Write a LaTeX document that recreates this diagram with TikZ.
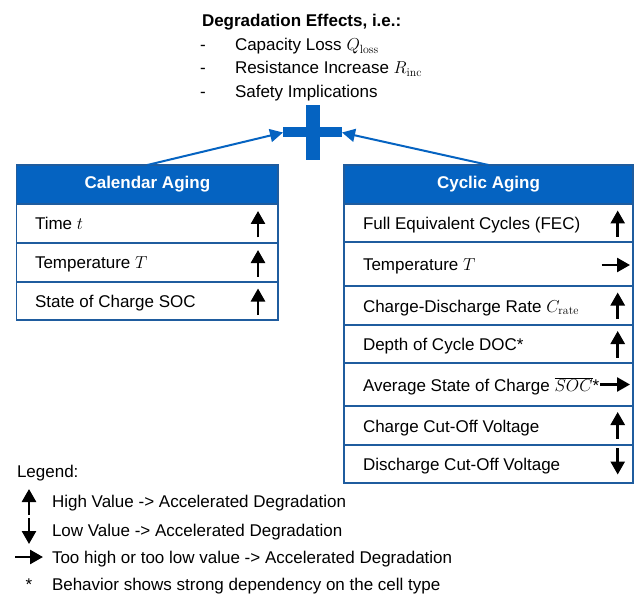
\documentclass[tikz,border=0pt]{standalone}
\usepackage{fontspec}
\setmainfont{Liberation Sans}
\setmathrm{Latin Modern Roman}
\usetikzlibrary{arrows.meta}
\definecolor{hdr}{HTML}{0563C1}
\definecolor{bdr}{HTML}{1F5C9E}
\begin{document}
\begin{tikzpicture}[x=1pt,y=-1pt,
  every node/.style={font=\fontsize{17}{20}\selectfont, inner sep=0pt, outer sep=0pt},
  hdrbox/.style={draw=bdr, line width=1.4pt, fill=hdr, text=white, font=\fontsize{17}{20}\selectfont\bfseries},
  rowbox/.style={draw=bdr, line width=1.4pt, fill=white},
  rowtxt/.style={anchor=base west},
  ind/.style={-{Triangle[length=13pt,width=14pt]}, line width=2.6pt, black},
  link/.style={draw=hdr, line width=2pt, -{Triangle[length=13pt,width=13pt]}},
]
\useasboundingbox (0,0) rectangle (636,601);

% top text
\node[rowtxt, font=\fontsize{17}{20}\selectfont\bfseries] (deg) at (202,27) {Degradation Effects, i.e.:};
\node[rowtxt] (d1) at (200,50.7) {-};
\node[rowtxt] (e1) at (235,50.7) {Capacity Loss $Q_{\mathrm{loss}}$};
\node[rowtxt] (d2) at (200,74) {-};
\node[rowtxt] (e2) at (235,74) {Resistance Increase $R_{\mathrm{inc}}$};
\node[rowtxt] (d3) at (200,97.3) {-};
\node[rowtxt] (e3) at (235,97.3) {Safety Implications};

% plus
\node (plus) [minimum width=59pt, minimum height=55pt] at (312.5,132.5) {};
\fill[hdr] (305.5,105) rectangle (320,160);
\fill[hdr] (283,127) rectangle (342,137.5);

% calendar box
\node[hdrbox, minimum width=261.3pt, minimum height=39pt] (calhdr) at (147.35,184.5) {Calendar Aging};
\node[rowbox, minimum width=261.3pt, minimum height=39pt] (cal1) at (147.35,223.5) {};
\node[rowbox, minimum width=261.3pt, minimum height=39pt] (cal2) at (147.35,262.5) {};
\node[rowbox, minimum width=261.3pt, minimum height=38pt] (cal3) at (147.35,301) {};
\node[rowtxt] (calt1) at (35,230) {Time $t$};
\node[rowtxt] (calt2) at (35,269) {Temperature $T$};
\node[rowtxt] (calt3) at (35,307.5) {State of Charge SOC};
\draw[ind] (258,237.5) -- (258,211);
\draw[ind] (258,276.5) -- (258,250);
\draw[ind] (258,315) -- (258,288.5);

% cyclic box
\node[hdrbox, minimum width=289pt, minimum height=39pt] (cychdr) at (488.5,184.5) {Cyclic Aging};
\node[rowbox, minimum width=289pt, minimum height=38pt] (cy1) at (488.5,223) {};
\node[rowbox, minimum width=289pt, minimum height=44pt] (cy2) at (488.5,264) {};
\node[rowbox, minimum width=289pt, minimum height=39pt] (cy3) at (488.5,305.5) {};
\node[rowbox, minimum width=289pt, minimum height=38pt] (cy4) at (488.5,344) {};
\node[rowbox, minimum width=289pt, minimum height=43pt] (cy5) at (488.5,384.5) {};
\node[rowbox, minimum width=289pt, minimum height=39pt] (cy6) at (488.5,425.5) {};
\node[rowbox, minimum width=289pt, minimum height=38pt] (cy7) at (488.5,464) {};
\node[rowtxt] (cyt1) at (363,229.5) {Full Equivalent Cycles (FEC)};
\node[rowtxt] (cyt2) at (363,270.5) {Temperature $T$};
\node[rowtxt] (cyt3) at (363,312) {Charge-Discharge Rate $C_{\mathrm{rate}}$};
\node[rowtxt] (cyt4) at (363,350.5) {Depth of Cycle DOC*};
\node[rowtxt] (cyt5) at (363,391) {Average State of Charge $\overline{SOC}$*};
\node[rowtxt] (cyt6) at (363,432) {Charge Cut-Off Voltage};
\node[rowtxt] (cyt7) at (363,470.5) {Discharge Cut-Off Voltage};
\draw[ind] (617.7,237) -- (617.7,210.5);
\draw[ind] (601.7,265) -- (630,265);
\draw[ind] (617.7,319) -- (617.7,292.5);
\draw[ind] (617.7,357.5) -- (617.7,331);
\draw[ind] (600,384.5) -- (630,384.5);
\draw[ind] (617.7,438.5) -- (617.7,412);
\draw[ind] (617.7,448) -- (617.7,474.5);

% connectors
\draw[link] (calhdr.north) -- (plus.west);
\draw[link] (cychdr.north) -- (plus.east);

% legend
\node[rowtxt] (leg) at (17,477) {Legend:};
\draw[ind] (29,514.5) -- (29,489);
\node[rowtxt] (l1) at (52,507.5) {High Value -> Accelerated Degradation};
\draw[ind] (29,518) -- (29,544);
\node[rowtxt] (l2) at (52,536) {Low Value -> Accelerated Degradation};
\draw[ind] (15,557) -- (43,557);
\node[rowtxt] (l3) at (52,563) {Too high or too low value -> Accelerated Degradation};
\node[anchor=base] (ast) at (29,590) {*};
\node[rowtxt] (l4) at (52,590) {Behavior shows strong dependency on the cell type};
\end{tikzpicture}
\end{document}
